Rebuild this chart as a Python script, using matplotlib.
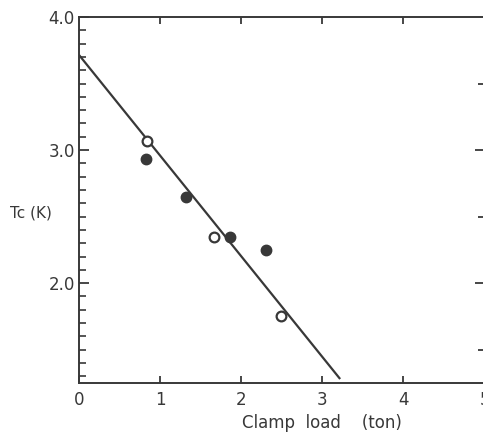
import matplotlib
matplotlib.use("Agg")
import matplotlib.pyplot as plt
import numpy as np

# Data
open_x = [0.84, 1.66, 2.49]
open_y = [3.07, 2.35, 1.75]
filled_x = [0.82, 1.32, 1.86, 2.31]
filled_y = [2.93, 2.65, 2.35, 2.25]
fit_x = [0.0, 3.22]
fit_y = [3.715, 1.28]

xticks = [0, 1, 2, 3, 4, 5]
xticklabels = ["0", "1", "2", "3", "4", "5"]
yticks = [2.0, 3.0, 4.0]
yticklabels = ["2.0", "3.0", "4.0"]

ink = "#383838"
W, H = 483, 433
fig = plt.figure(figsize=(W / 100, H / 100), dpi=100)
fig.patch.set_facecolor("#ffffff")
l, r, t, b = 79, 484.5, 17, 383
ax = fig.add_axes([l / W, 1 - b / H, (r - l) / W, (b - t) / H])
ax.set_facecolor("#ffffff")

ax.plot(fit_x, fit_y, color=ink, lw=1.6, solid_capstyle="butt")
ax.plot(filled_x, filled_y, "o", ms=7.5, color=ink, mec=ink)
ax.plot(open_x, open_y, "o", ms=7, mfc="white", mec=ink, mew=1.6)

ax.set_xlim(0, 5)
ax.set_ylim(1.25, 4.0)

for s in ax.spines.values():
    s.set_color(ink)
    s.set_linewidth(1.4)

ax.set_xticks(xticks)
ax.set_xticklabels(xticklabels)
ax.set_yticks(yticks)
ax.set_yticklabels(yticklabels)
ax.set_yticks(np.arange(1.3, 4.0, 0.1), minor=True)
ax.tick_params(axis="both", which="major", direction="in", color=ink,
               labelcolor=ink, labelsize=12, width=1.3)
ax.tick_params(axis="y", which="major", length=7, pad=3)
ax.tick_params(axis="x", which="major", length=5, pad=6, top=False)
ax.tick_params(axis="y", which="minor", direction="in", length=5, width=1.2,
               color=ink)

# top ticks
axt = ax.secondary_xaxis("top")
axt.set_xticks([1, 2, 3, 4])
axt.tick_params(direction="in", length=5, width=1.3, color=ink, labeltop=False)
axt.spines["top"].set_visible(False)

# right ticks
axr = ax.secondary_yaxis("right")
axr.set_yticks([2.0, 3.0])
axr.set_yticks([1.5, 2.5, 3.5], minor=True)
axr.tick_params(which="major", direction="in", length=7, width=1.3, color=ink,
                labelright=False)
axr.tick_params(which="minor", direction="in", length=5, width=1.3, color=ink,
                labelright=False)
axr.spines["right"].set_visible(False)

fig.text(31 / W, 1 - 213 / H, "Tc (K)", ha="center", va="center",
         fontsize=11, color=ink)
fig.text(322 / W, 1 - 423 / H, "Clamp  load    (ton)", ha="center",
         va="center", fontsize=12, color=ink)

fig.savefig("out.png", dpi=100, facecolor=fig.get_facecolor())
